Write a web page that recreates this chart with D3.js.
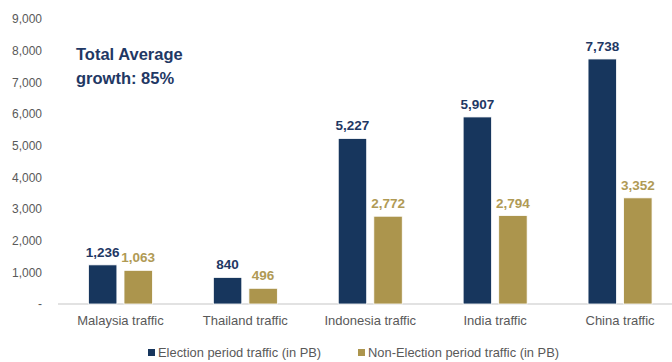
<!DOCTYPE html>
<html>
<head>
<meta charset="utf-8">
<script src="https://cdn.jsdelivr.net/npm/d3@7"></script>
<style>
  html, body { margin: 0; padding: 0; background: #ffffff; }
  svg { display: block; }
</style>
</head>
<body>
<div id="chart"></div>
<script>
// Traffic per country, in PB
const categories = ["Malaysia traffic", "Thailand traffic", "Indonesia traffic", "India traffic", "China traffic"];
const electionTraffic = [1236, 840, 5227, 5907, 7738];
const nonElectionTraffic = [1063, 496, 2772, 2794, 3352];
const seriesNames = ["Election period traffic (in PB)", "Non-Election period traffic (in PB)"];
const yTicks = [0, 1000, 2000, 3000, 4000, 5000, 6000, 7000, 8000, 9000];
const annotationLines = ["Total Average", "growth: 85%"];

const W = 672, H = 362;
const colors = ["#17365d", "#ac954d"];
const labelColors = ["#1f3864", "#b09a55"];
const font = "'Liberation Sans', Arial, sans-serif";

const svg = d3.select("#chart").append("svg")
  .attr("width", W).attr("height", H)
  .style("font-family", font);

const y = d3.scaleLinear().domain([0, 9000]).range([304, 19]);
const x0 = d3.scaleBand().domain(categories).range([58, 682.5]).padding(0);
const x1 = d3.scaleBand().domain([0, 1]).range([0, 64]).paddingInner(0.2);
const barOffset = x0.bandwidth() / 2 - 32;

// y axis labels (no line, no ticks)
const yAxis = d3.axisLeft(y).tickValues(yTicks)
  .tickFormat(d => d === 0 ? "-" : d3.format(",")(d))
  .tickSize(0).tickPadding(0);
const gy = svg.append("g").attr("transform", "translate(42,0)").call(yAxis);
gy.select(".domain").remove();
gy.selectAll("text").attr("fill", "#595959").style("font-size", "12px").style("font-family", font);

// baseline
svg.append("line")
  .attr("x1", 58).attr("x2", 672)
  .attr("y1", y(0)).attr("y2", y(0))
  .attr("stroke", "#d9d9d9").attr("stroke-width", 1.5);

// x axis category labels
const xAxis = d3.axisBottom(x0).tickSize(0).tickPadding(12);
const gx = svg.append("g").attr("transform", `translate(0,${y(0)})`).call(xAxis);
gx.select(".domain").remove();
gx.selectAll("text").attr("fill", "#595959").style("font-size", "13px").style("font-family", font);

const rows = categories.map((c, i) => ({ cat: c, vals: [electionTraffic[i], nonElectionTraffic[i]] }));

const groups = svg.append("g").selectAll("g").data(rows).join("g")
  .attr("transform", d => `translate(${x0(d.cat) + barOffset},0)`);

groups.selectAll("rect").data(d => d.vals.map((v, s) => ({ v, s }))).join("rect")
  .attr("x", d => x1(d.s))
  .attr("width", x1.bandwidth())
  .attr("y", d => y(d.v))
  .attr("height", d => y(0) - y(d.v))
  .attr("fill", d => colors[d.s])
  .attr("stroke", "#ffffff").attr("stroke-width", 0.8);

groups.selectAll("text.val").data(d => d.vals.map((v, s) => ({ v, s }))).join("text")
  .attr("class", "val")
  .attr("x", d => x1(d.s) + x1.bandwidth() / 2)
  .attr("y", d => y(d.v) - 8)
  .attr("text-anchor", "middle")
  .attr("fill", d => labelColors[d.s])
  .style("font-size", "13.5px").style("font-weight", "bold")
  .text(d => d3.format(",")(d.v));

// annotation
svg.append("text")
  .attr("x", 76).attr("y", 60)
  .attr("fill", "#1f3864")
  .style("font-size", "16.5px").style("font-weight", "bold")
  .selectAll("tspan").data(annotationLines).join("tspan")
  .attr("x", 76).attr("dy", (d, i) => i === 0 ? 0 : 24)
  .text(d => d);

// legend
const legendX = [148, 358];
const legend = svg.append("g").selectAll("g").data(seriesNames).join("g")
  .attr("transform", (d, i) => `translate(${legendX[i]},353)`);
legend.append("rect").attr("x", 0).attr("y", -4).attr("width", 7).attr("height", 7)
  .attr("fill", (d, i) => colors[i]);
legend.append("text").attr("x", 10).attr("y", 4)
  .attr("fill", "#595959").style("font-size", "12.9px")
  .text(d => d);
</script>
</body>
</html>
